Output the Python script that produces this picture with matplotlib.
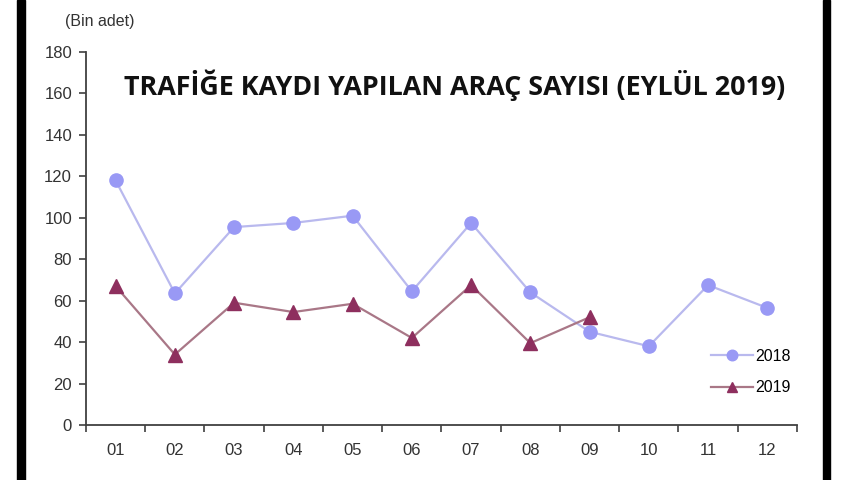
import numpy as np
import matplotlib.pyplot as plt
from matplotlib.patches import Rectangle

months = ["01", "02", "03", "04", "05", "06", "07", "08", "09", "10", "11", "12"]
values_2018 = [118, 63.5, 95.5, 97.5, 101, 64.5, 97.5, 64, 45, 38, 67.5, 56.5]
values_2019 = [67, 34, 59, 54.5, 58.5, 42, 67.5, 39.5, 52]
y_ticks = [0, 20, 40, 60, 80, 100, 120, 140, 160, 180]

plt.rcParams["font.family"] = ["Liberation Sans", "DejaVu Sans"]

fig = plt.figure(figsize=(8.6, 4.8), dpi=100)
ax = fig.add_axes([0.1, 0.1146, 0.8267, 0.7771])

x18 = np.arange(len(values_2018))
x19 = np.arange(len(values_2019))
ax.plot(x18, values_2018, color="#b9b9ee", lw=1.6, marker="o", ms=9.5,
        mfc="#9999f5", mec="#9999f5", label="2018")
ax.plot(x19, values_2019, color="#a97787", lw=1.6, marker="^", ms=9.5,
        mfc="#8e2f5e", mec="#8e2f5e", label="2019")

ax.set_xlim(-0.5, len(months) - 0.5)
ax.set_ylim(0, 180)
ax.set_yticks(y_ticks)
ax.set_xticks(np.arange(len(months)))
ax.set_xticklabels(months)
ax.set_xticks(np.arange(-0.5, len(months)), minor=True)
ax.tick_params(axis="x", which="major", length=0, pad=13, labelsize=12, colors="#333333")
ax.tick_params(axis="x", which="minor", length=5, width=1.2, color="#404040")
ax.tick_params(axis="y", length=5, width=1.2, color="#404040", labelsize=12,
               labelcolor="#333333", pad=5)

for side in ["top", "right"]:
    ax.spines[side].set_visible(False)
for side in ["left", "bottom"]:
    ax.spines[side].set_color("#404040")
    ax.spines[side].set_linewidth(1.3)

ax.legend(loc="center left", bbox_to_anchor=(703 / 860, 108 / 480),
          bbox_transform=fig.transFigure, frameon=False, borderpad=0,
          fontsize=11.5, handlelength=2.6, labelspacing=1.05, handletextpad=0.2,
          markerscale=0.8)

fig.text(0.076, 0.955, "(Bin adet)", fontsize=11.5, color="#333333", va="center")
fig.text(0.529, 0.822, "TRAFİĞE KAYDI YAPILAN ARAÇ SAYISI (EYLÜL 2019)",
         fontsize=19.4, fontweight="bold", family=["Open Sans", "DejaVu Sans"],
         ha="center", va="center", color="#111111")

fig.patches.append(Rectangle((0.0198, 0), 0.0093, 1, transform=fig.transFigure,
                             color="black", zorder=10))
fig.patches.append(Rectangle((0.957, 0), 0.0082, 1, transform=fig.transFigure,
                             color="black", zorder=10))

fig.savefig("out.png", dpi=100)
